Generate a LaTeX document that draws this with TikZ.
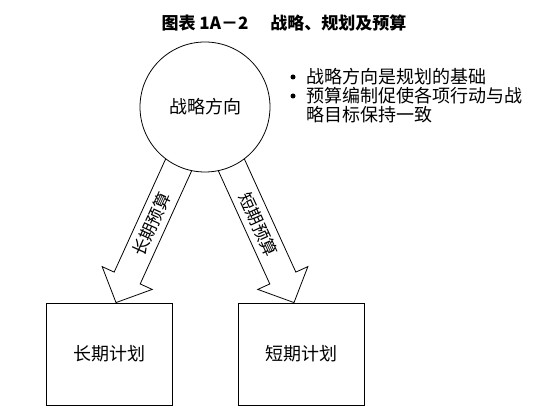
\documentclass[tikz,border=0pt]{standalone}
\usepackage{fontspec}
\setmainfont{Noto Sans CJK SC}
\usetikzlibrary{calc}
\tikzset{
  ln/.style={line width=0.8pt},
  barrow/.style={ln, fill=white, line join=miter},
  circ/.style={ln, draw, fill=white, circle, minimum size=130pt, inner sep=0pt},
  box/.style={ln, draw, minimum width=126pt, minimum height=102pt, inner sep=0pt},
  body/.style={font=\fontsize{18}{21}\selectfont},
  lab/.style={font=\fontsize{17}{20}\selectfont, inner sep=1pt},
  dot/.style={circle, fill=black, inner sep=0pt, minimum size=5pt},
  line/.style={body, anchor=west, inner sep=0pt},
}
\newcommand\blkarrow[2]{%
  \coordinate (hb) at ($(#2)!27pt!(#1)$);
  \draw[barrow] ($(#1)!14.3pt!90:(#2)$) -- ($(hb)!14.3pt!90:(#2)$) -- ($(hb)!27.5pt!90:(#2)$)
    -- (#2) -- ($(hb)!27.5pt!-90:(#2)$) -- ($(hb)!14.3pt!-90:(#2)$) -- ($(#1)!14.3pt!-90:(#2)$) -- cycle;
}
\begin{document}
\begin{tikzpicture}[x=1pt, y=-1pt]
\path[use as bounding box, fill=white] (0,0) rectangle (544,419);

\node[font=\bfseries\fontsize{17}{20}\selectfont] (title) at (284,23) {图表 1A－2\hspace{1.3em}战略、规划及预算};

\node[box, body] (lp) at (109,354) {长期计划};
\node[box, body] (sp) at (301,354) {短期计划};

\coordinate (sc) at (205,107);
\coordinate (t1) at ($(lp.north)+(7,0)$);
\coordinate (t2) at ($(sp.north)+(-7,0)$);

\blkarrow{sc}{t1}
\blkarrow{sc}{t2}

\node[circ, body] (strat) at (sc) {战略方向};

\path (t1) -- (sc) node[lab, pos=0.4, sloped] (la1) {长期预算};
\path (sc) -- (t2) node[lab, pos=0.6, sloped] (la2) {短期预算};

\node[dot] (b1) at (293,77) {};
\node[dot] (b2) at (293,96) {};
\node[line] (l1) at (306,77) {战略方向是规划的基础};
\node[line] (l2) at (306,96) {预算编制促使各项行动与战};
\node[line] (l3) at (306,115) {略目标保持一致};
\end{tikzpicture}
\end{document}
